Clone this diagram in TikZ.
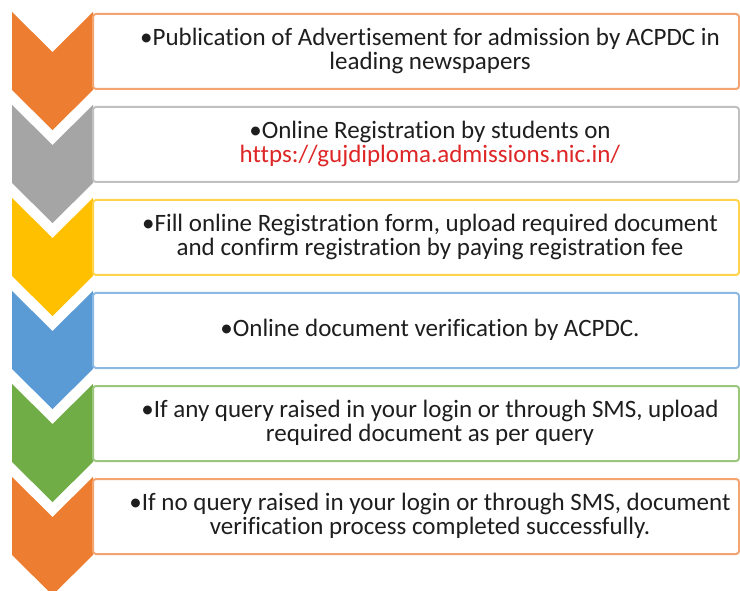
\documentclass[tikz,border=0pt]{standalone}
\usepackage{fontspec}
\setmainfont{Carlito}[Ligatures=NoCommon]
\usepackage{tikz}
\definecolor{stepOrange}{RGB}{237,125,49}
\definecolor{stepGray}{RGB}{165,165,165}
\definecolor{stepYellow}{RGB}{255,192,0}
\definecolor{stepBlue}{RGB}{91,155,213}
\definecolor{stepGreen}{RGB}{112,173,71}
\definecolor{stepText}{RGB}{30,30,30}
\definecolor{stepLink}{RGB}{222,38,38}
\def\chevron[#1](#2){\fill[#1] (12,#2) -- (52.5,#2+40) -- (93,#2) -- (93,#2+78) -- (52.5,#2+118) -- (12,#2+78) -- cycle;}
\def\stepbox[#1](#2){\draw[#1!70!white, line width=2pt, rounded corners=3pt, fill=white] (93,#2+2) rectangle (739,#2+77);}
\tikzset{steptext/.style={align=center, text=stepText, font=\fontsize{25}{24}\selectfont, inner sep=0pt}}

\begin{document}
\begin{tikzpicture}[x=1pt, y=-1pt]
			%%%%% START %%%%%
			\useasboundingbox (0,0) rectangle (740,591);
			\fill[white] (0,0) rectangle (740,591);
			
			\chevron[stepOrange](12);
			\stepbox[stepOrange](12);
			\node[steptext] (pub) at (430,50.5) {•Publication of Advertisement for admission by ACPDC in\\leading newspapers};
			
			\chevron[stepGray](105);
			\stepbox[stepGray](105);
			\node[steptext] (reg) at (430,143.5) {•Online Registration by students on\\\textcolor{stepLink}{https://gujdiploma.admissions.nic.in/}};
			
			\chevron[stepYellow](198);
			\stepbox[stepYellow](198);
			\node[steptext] (form) at (430,236.5) {•Fill online Registration form, upload required document\\and confirm registration by paying registration fee};
			
			\chevron[stepBlue](291);
			\stepbox[stepBlue](291);
			\node[steptext] (verify) at (430,329.5) {•Online document verification by ACPDC.};
			
			\chevron[stepGreen](384);
			\stepbox[stepGreen](384);
			\node[steptext] (query) at (430,422.5) {•If any query raised in your login or through SMS, upload\\required document as per query};
			
			\chevron[stepOrange](477);
			\stepbox[stepOrange](477);
			\node[steptext] (done) at (430,515.5) {•If no query raised in your login or through SMS, document\\verification process completed successfully.};
			%%%%% END %%%%%
		\end{tikzpicture}
\end{document}
